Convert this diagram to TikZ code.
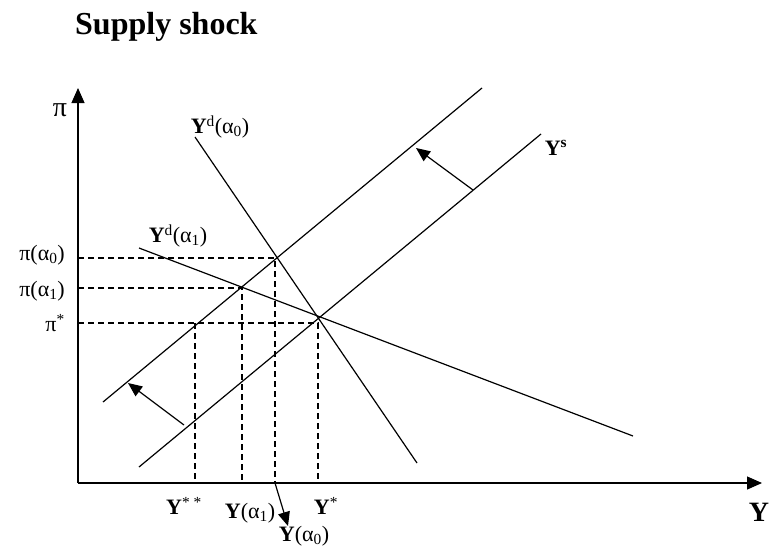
\documentclass[tikz,border=0pt]{standalone}
\usepackage{fontspec}
\setmainfont{Liberation Serif}
\usetikzlibrary{arrows.meta}
\tikzset{
  curve/.style={line width=1.2pt},
  guide/.style={line width=1.1pt, dash pattern=on 6pt off 4pt},
  axisarrow/.style={line width=1.2pt, -{Triangle[length=15pt,width=13pt]}},
  shiftarrow/.style={line width=1.2pt, -{Triangle[length=14pt,width=12pt]}},
  lab/.style={inner sep=0pt, font=\fontsize{22}{24}\selectfont},
  axlab/.style={inner sep=0pt, font=\fontsize{28}{30}\selectfont},
}
\begin{document}
\begin{tikzpicture}[x=1pt,y=-1pt]
\useasboundingbox (0,0) rectangle (771,550);
% title
\node[anchor=base west, inner sep=0pt, font=\fontsize{32}{34}\selectfont\bfseries] (title) at (75,34) {Supply shock};
% axes
\coordinate (O) at (78,483);
\coordinate (ytip) at (78,88);
\coordinate (xtip) at (762,483);
\draw[axisarrow] (O) -- (ytip);
\draw[axisarrow] (O) -- (xtip);
\node[axlab] (pilab) at (60,110) {π};
\node[axlab] (Ylab) at (759,512) {\textbf{Y}};
% curves
\coordinate (S0a) at (139,467); \coordinate (S0b) at (541,134);
\coordinate (S1a) at (103,402); \coordinate (S1b) at (482,88);
\coordinate (D0a) at (195,137); \coordinate (D0b) at (417,463);
\coordinate (D1a) at (139,248); \coordinate (D1b) at (633,436);
\draw[curve] (S0a) -- (S0b);
\draw[curve] (S1a) -- (S1b);
\draw[curve] (D0a) -- (D0b);
\draw[curve] (D1a) -- (D1b);
% intersections
\coordinate (A0) at (275,258);
\coordinate (A1) at (242,288);
\coordinate (Es) at (318,323);
\coordinate (Ess) at (195,323);
\coordinate (P0) at (78,258);
\coordinate (P1) at (78,288);
\coordinate (Ps) at (78,323);
\coordinate (X0) at (275,483);
\coordinate (X1) at (242,483);
\coordinate (Xs) at (318,483);
\coordinate (Xss) at (195,483);
\draw[guide] (P0) -- (A0) -- (X0);
\draw[guide] (P1) -- (A1) -- (X1);
\draw[guide] (Ps) -- (Es) -- (Xs);
\draw[guide] (Ess) -- (Xss);
% shift arrows
\coordinate (sh1a) at (473,190); \coordinate (sh1b) at (416,148);
\coordinate (sh2a) at (184,425); \coordinate (sh2b) at (128,383);
\draw[shiftarrow] (sh1a) -- (sh1b);
\draw[shiftarrow] (sh2a) -- (sh2b);
\coordinate (yarr) at (288,526);
\draw[shiftarrow] (X0) -- (yarr);
% curve labels
\node[lab] (Ld0) at (220,127) {\textbf{Y}\textsuperscript{d}(α\textsubscript{0})};
\node[lab] (Ld1) at (178,236) {\textbf{Y}\textsuperscript{d}(α\textsubscript{1})};
\node[lab] (Ls) at (556,148) {\textbf{Y\textsuperscript{s}}};
% pi labels
\node[lab, anchor=east] (Lp0) at (65,255) {π(α\textsubscript{0})};
\node[lab, anchor=east] (Lp1) at (65,291) {π(α\textsubscript{1})};
\node[lab, anchor=east] (Lps) at (65,323) {π\textsuperscript{*}};
% Y labels
\node[lab] (Lyss) at (184,506) {\textbf{Y}\textsuperscript{* *}};
\node[lab] (Ly1) at (250,513) {\textbf{Y}(α\textsubscript{1})};
\node[lab] (Lys) at (326,506) {\textbf{Y}\textsuperscript{*}};
\node[lab] (Ly0) at (304,536) {\textbf{Y}(α\textsubscript{0})};
\end{tikzpicture}
\end{document}
